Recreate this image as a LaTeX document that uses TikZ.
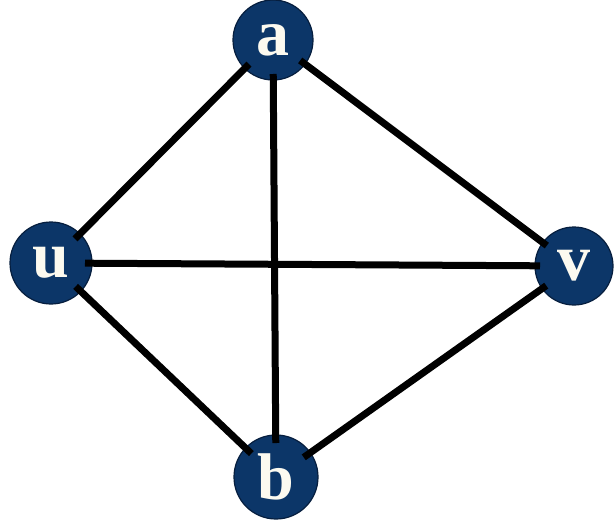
\documentclass[tikz,border=0pt]{standalone}
\usepackage{fontspec}
\setmainfont{Liberation Serif}
\definecolor{vnavy}{RGB}{12,54,104}
\definecolor{vedge}{RGB}{6,30,62}
\definecolor{vtext}{RGB}{252,250,240}
\begin{document}
\begin{tikzpicture}[x=1pt,y=-1pt,
  vertex/.style={circle, fill=vnavy, draw=vedge, line width=1.2pt,
    minimum size=#1, inner sep=0pt, text=vtext,
    font=\fontsize{66}{66}\selectfont\bfseries},
  vertex/.default=80pt,
  link/.style={line width=7pt, black, shorten <=#1, shorten >=#1},
  link/.default=34pt]
  \useasboundingbox (0,0) rectangle (616,525);
  % vertices
  \node[vertex] (a) at (273,40) {a};
  \node[vertex=82pt] (u) at (51,263) {u};
  \node[vertex=78pt] (v) at (574,266) {v};
  \node[vertex=84pt] (b) at (276,477) {b};
  % edges, drawn over the vertex discs
  \draw[link] (a.center) -- (u.center);
  \draw[link] (a.center) -- (v.center);
  \draw[link] (a.center) -- (b.center);
  \draw[link] (u.center) -- (v.center);
  \draw[link] (u.center) -- (b.center);
  \draw[link] (b.center) -- (v.center);
\end{tikzpicture}
\end{document}
